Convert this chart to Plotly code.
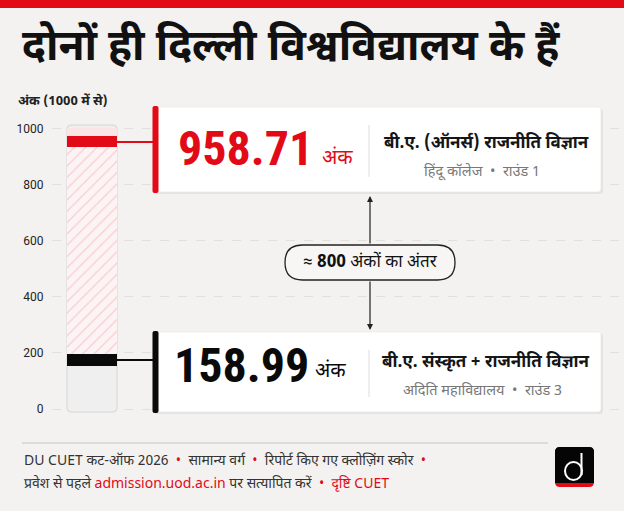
import plotly.graph_objects as go

# ---------------- data ----------------
cutoff_labels = ["958.71", "158.99"]
cutoff_values = [958.71, 158.99]
band_low = [932, 154]          # visible marker band on the gauge
band_high = [971, 196]
course_names = ["बी.ए. (ऑनर्स) राजनीति विज्ञान", "बी.ए. संस्कृत + राजनीति विज्ञान"]
college_names = ["हिंदू कॉलेज", "अदिति महाविद्यालय"]
rounds = ["राउंड 1", "राउंड 3"]
max_score = 1000
tick_vals = [0, 200, 400, 600, 800, 1000]
tick_text = ["0", "200", "400", "600", "800", "1000"]

RED = "#e20a17"
BLACK = "#0a0a0a"
BG = "#f3f2f0"
DEV = "Noto Sans Devanagari, Noto Sans, Roboto, sans-serif"
NUM = "Roboto, Noto Sans, sans-serif"
NARROW = "Roboto Condensed, Roboto, sans-serif"

W, H = 624, 511
L = 52
# y pixel mapping: value 0 -> py 409, value 1000 -> py 128.3
K = (409 - 128.3) / max_score


def Y(py):
    return (409 - py) / K


def PX(px):  # paper x from pixel
    return (px - L) / (W - L)


def rrect(x0, y0, x1, y1, r):
    p = lambda x, y: f"{x},{Y(y):.3f}"
    return (f"M {p(x0 + r, y0)} L {p(x1 - r, y0)} Q {p(x1, y0)} {p(x1, y0 + r)} "
            f"L {p(x1, y1 - r)} Q {p(x1, y1)} {p(x1 - r, y1)} L {p(x0 + r, y1)} "
            f"Q {p(x0, y1)} {p(x0, y1 - r)} L {p(x0, y0 + r)} Q {p(x0, y0)} {p(x0 + r, y0)} Z")


fig = go.Figure()

BAR_X, BAR_W = 92, 50

# hatched gap between the two cut-offs
fig.add_trace(go.Bar(
    x=[BAR_X], y=[band_low[0] - band_high[1]], base=[band_high[1]], width=BAR_W,
    marker=dict(color="#fdf3f3", line=dict(width=0),
                pattern=dict(shape="/", fgcolor="#f5a9ad", bgcolor="#fcf4f4", size=8, solidity=0.17)),
    hoverinfo="skip", showlegend=False))
# area above the top cut-off
fig.add_trace(go.Bar(
    x=[BAR_X], y=[max_score - band_high[0]], base=[band_high[0]], width=BAR_W,
    marker=dict(color="#fbe4e5", line=dict(width=0)), hoverinfo="skip", showlegend=False))
# cut-off bands
for i, col in enumerate([RED, BLACK]):
    fig.add_trace(go.Bar(
        x=[BAR_X], y=[band_high[i] - band_low[i]], base=[band_low[i]], width=BAR_W,
        marker=dict(color=col, line=dict(width=0)), hoverinfo="skip", showlegend=False))

shapes = []
annots = []

# top red strip
shapes.append(dict(type="rect", xref="paper", yref="y", x0=PX(0), x1=PX(W), y0=Y(8), y1=Y(0),
                   fillcolor=RED, line=dict(width=0), layer="above"))

# gauge background
shapes.append(dict(type="path", xref="x", yref="y",
                   path=rrect(BAR_X - BAR_W / 2, 125, BAR_X + BAR_W / 2, 412, 4),
                   fillcolor="#efefef", line=dict(color="#d6d6d6", width=1), layer="between"))

# cards
cards = [(107, 192), (332, 412)]
accent = [RED, BLACK]
num_y = [148.5, 365.5]
unit_y = [159, 372]
num_x = [176, 172]
unit_x = [320, 313]
for i, (t, b) in enumerate(cards):
    shapes.append(dict(type="path", xref="x", yref="y", path=rrect(154, t + 2, 603, b + 2, 3),
                       fillcolor="rgba(0,0,0,0.06)", line=dict(width=0), layer="above"))
    shapes.append(dict(type="path", xref="x", yref="y", path=rrect(153, t, 601, b, 3),
                       fillcolor="#ffffff", line=dict(color="#e6e6e6", width=0.6), layer="above"))
    shapes.append(dict(type="path", xref="x", yref="y", path=rrect(152.5, t - 1, 158.5, b + 1, 2),
                       fillcolor=accent[i], line=dict(width=0), layer="above"))
    # connector from band to card
    yc = (band_low[i] + band_high[i]) / 2
    shapes.append(dict(type="line", xref="x", yref="y", x0=BAR_X + BAR_W / 2, x1=153, y0=yc, y1=yc,
                       line=dict(color=accent[i], width=2), layer="above"))
    # divider
    shapes.append(dict(type="line", xref="x", yref="y", x0=369, x1=369, y0=Y(t + 18), y1=Y(b - 15),
                       line=dict(color="#dedede", width=1), layer="above"))
    annots.append(dict(x=num_x[i], y=Y(num_y[i]), xref="x", yref="y",
                       text=f"<b>{cutoff_labels[i]}</b>", showarrow=False, xanchor="left", yanchor="middle",
                       font=dict(family=NARROW, size=48, color=accent[i])))
    annots.append(dict(x=unit_x[i], y=Y(unit_y[i]), xref="x", yref="y",
                       text="अंक", showarrow=False, xanchor="left", yanchor="middle",
                       font=dict(family=DEV, size=20, color=accent[i])))
    annots.append(dict(x=486, y=Y(t + 36 if i == 0 else t + 30), xref="x", yref="y",
                       text=f"<b>{course_names[i]}</b>", showarrow=False, xanchor="center", yanchor="middle",
                       font=dict(family=DEV, size=17, color="#151515")))
    annots.append(dict(x=482, y=Y(t + 65 if i == 0 else t + 59), xref="x", yref="y",
                       text=f"{college_names[i]}  •  {rounds[i]}", showarrow=False, xanchor="center",
                       yanchor="middle", font=dict(family=DEV, size=14.5, color="#777777")))

# difference annotation: pill + arrows
shapes.append(dict(type="path", xref="x", yref="y", path=rrect(285, 245, 455, 280, 17.5),
                   fillcolor="#f7f6f4", line=dict(color="#222222", width=1.3), layer="above"))
diff = round(cutoff_values[0] - cutoff_values[1], -2)
annots.append(dict(x=370, y=Y(262.5), xref="x", yref="y", text=f"≈ <b>{diff:.0f}</b> अंकों का अंतर",
                   showarrow=False, font=dict(family=DEV, size=17, color="#111111")))
for (ytip, ytail) in [(196, 245), (330, 280)]:
    annots.append(dict(x=370, y=Y(ytip), ax=370, ay=Y(ytail), xref="x", yref="y", axref="x", ayref="y",
                       text="", showarrow=True, arrowhead=2, arrowsize=1, arrowwidth=1.2,
                       arrowcolor="#222222"))

# title
annots.append(dict(x=PX(20), y=Y(49), xref="paper", yref="y", xanchor="left", yanchor="middle",
                   text="<b>दोनों ही दिल्ली विश्वविद्यालय के हैं</b>", showarrow=False,
                   font=dict(family=DEV, size=42.5, color="#111111")))
# axis title
annots.append(dict(x=PX(16), y=Y(101), xref="paper", yref="y", xanchor="left", yanchor="middle",
                   text="<b>अंक (1000 में से)</b>", showarrow=False,
                   font=dict(family=DEV, size=13, color="#222222")))

# footer
shapes.append(dict(type="line", xref="paper", yref="y", x0=PX(22), x1=PX(548), y0=Y(443), y1=Y(443),
                   line=dict(color="#d4d4d4", width=1.5), layer="above"))
dot = f"<span style='color:{RED}'>•</span>"
annots.append(dict(x=PX(22), y=Y(461), xref="paper", yref="y", xanchor="left", yanchor="middle",
                   text=f"DU CUET कट-ऑफ 2026  {dot}  सामान्य वर्ग  {dot}  रिपोर्ट किए गए क्लोज़िंग स्कोर  {dot}",
                   showarrow=False, font=dict(family=DEV, size=14, color="#333333")))
annots.append(dict(x=PX(22), y=Y(484), xref="paper", yref="y", xanchor="left", yanchor="middle",
                   text=(f"प्रवेश से पहले <span style='color:{RED}'>admission.uod.ac.in</span> पर सत्यापित करें  "
                         f"{dot}  <span style='color:{RED}'>दृष्टि CUET</span>"),
                   showarrow=False, font=dict(family=DEV, size=14, color="#333333")))
# logo
shapes.append(dict(type="path", xref="x", yref="y", path=rrect(555, 447, 594, 487, 5),
                   fillcolor=RED, line=dict(width=0), layer="above"))
shapes.append(dict(type="path", xref="x", yref="y", path=rrect(555, 447, 594, 483, 5),
                   fillcolor="#050505", line=dict(width=0), layer="above"))
shapes.append(dict(type="rect", xref="x", yref="y", x0=555, x1=594, y0=Y(483), y1=Y(478),
                   fillcolor="#050505", line=dict(width=0), layer="above"))
shapes.append(dict(type="circle", xref="x", yref="y", x0=565, x1=582, y0=Y(480), y1=Y(462),
                   line=dict(color="#ffffff", width=2), layer="above"))
shapes.append(dict(type="line", xref="x", yref="y", x0=581.5, x1=581.5, y0=Y(453), y1=Y(475),
                   line=dict(color="#ffffff", width=2), layer="above"))

fig.update_layout(
    width=W, height=H, margin=dict(l=L, r=0, t=0, b=0),
    paper_bgcolor=BG, plot_bgcolor=BG, bargap=0, barmode="overlay",
    shapes=shapes, annotations=annots,
    xaxis=dict(range=[L, W], visible=False, fixedrange=True),
    yaxis=dict(range=[Y(H), Y(0)], tickvals=tick_vals, ticktext=tick_text,
               showgrid=True, gridcolor="#e2e0dd", griddash="dash", gridwidth=1,
               zeroline=False, showline=False, ticks="outside", ticklen=5, tickcolor=BG,
               tickfont=dict(family=NUM, size=12, color="#222222"), fixedrange=True),
)

fig.write_html("out.html", config={"displayModeBar": False},
               post_script="document.body.style.margin='0';document.body.style.padding='0';")
